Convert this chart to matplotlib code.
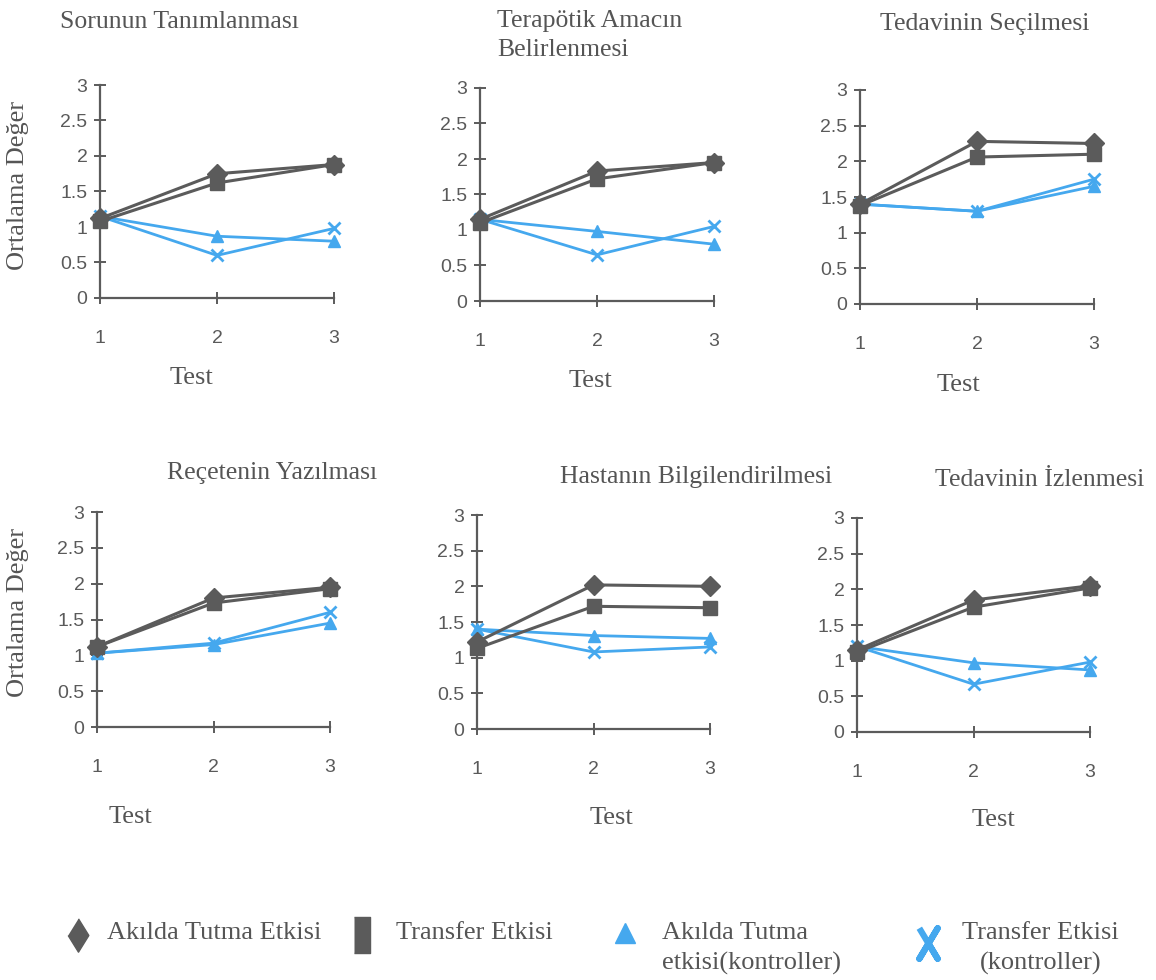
import matplotlib.pyplot as plt

# data
tests = [1, 2, 3]
titles = ["Sorunun Tanımlanması", "Terapötik Amacın\nBelirlenmesi", "Tedavinin Seçilmesi",
          "Reçetenin Yazılması", "Hastanın Bilgilendirilmesi", "Tedavinin İzlenmesi"]
akilda = [[1.12, 1.75, 1.88], [1.15, 1.83, 1.95], [1.40, 2.28, 2.25],
          [1.12, 1.80, 1.95], [1.22, 2.02, 2.00], [1.15, 1.85, 2.05]]
transfer = [[1.08, 1.62, 1.88], [1.10, 1.72, 1.95], [1.38, 2.06, 2.10],
            [1.12, 1.73, 1.93], [1.13, 1.72, 1.70], [1.12, 1.75, 2.02]]
akilda_k = [[1.15, 0.87, 0.80], [1.15, 0.98, 0.80], [1.40, 1.30, 1.65],
            [1.03, 1.15, 1.45], [1.40, 1.31, 1.27], [1.20, 0.97, 0.87]]
transfer_k = [[1.15, 0.60, 0.98], [1.15, 0.65, 1.05], [1.40, 1.30, 1.75],
              [1.03, 1.17, 1.60], [1.40, 1.08, 1.15], [1.20, 0.67, 0.98]]
legend_labels = ["Akılda Tutma Etkisi", "Transfer Etkisi",
                 "Akılda Tutma\netkisi(kontroller)", "Transfer Etkisi\n(kontroller)"]

W, H = 1156, 980
GRAY = "#5b5b5b"
BLUE = "#45a8ee"
TXT = "#555555"
TICK = "#5a5a5a"
SERIF = "Liberation Serif"
SANS = "Liberation Sans"

fig = plt.figure(figsize=(W / 100, H / 100), dpi=100)

# axes boxes in pixels: left, right, top, bottom
boxes = [(100, 334, 85, 298), (480, 714, 88, 301), (860, 1094, 90, 304),
         (97, 330, 512, 727), (477, 710, 515, 729), (857, 1090, 518, 732)]
title_pos = [(60, 22), (497, 10), (880, 24), (167, 473), (560, 477), (935, 480)]
test_pos = [(191, 378), (590, 381), (958, 385), (130, 817), (611, 818), (993, 820)]

for i, (l, r, t, b) in enumerate(boxes):
    ax = fig.add_axes([l / W, 1 - b / H, (r - l) / W, (b - t) / H])
    ax.plot(tests, akilda[i], color=GRAY, lw=2.2, marker="D", ms=10, clip_on=False, zorder=4)
    ax.plot(tests, transfer[i], color=GRAY, lw=2.2, marker="s", ms=10, clip_on=False, zorder=4)
    ax.plot(tests, akilda_k[i], color=BLUE, lw=2, marker="^", ms=8, clip_on=False, zorder=3)
    ax.plot(tests, transfer_k[i], color=BLUE, lw=2, marker="x", ms=9, mew=2, clip_on=False, zorder=3)
    ax.set_xlim(1, 3)
    ax.set_ylim(0, 3)
    ax.set_xticks(tests)
    ax.set_yticks([0, 0.5, 1, 1.5, 2, 2.5, 3])
    ax.set_yticklabels(["0", "0.5", "1", "1.5", "2", "2.5", "3"])
    for s in ["top", "right"]:
        ax.spines[s].set_visible(False)
    for s in ["left", "bottom"]:
        ax.spines[s].set_color(GRAY)
        ax.spines[s].set_linewidth(1.6)
    ax.tick_params(axis="both", direction="inout", length=8, width=1.4, color=GRAY,
                   labelcolor=TICK, labelsize=14)
    ax.tick_params(axis="x", pad=19)
    ax.tick_params(axis="y", pad=5)
    for lab in ax.get_xticklabels() + ax.get_yticklabels():
        lab.set_fontfamily(SANS)
    ax.patch.set_alpha(0)

    tx, ty = title_pos[i]
    if i == 1:
        fig.text(tx / W, 1 - ty / H, titles[i], family=SERIF, fontsize=18.5, color=TXT,
                 ha="left", va="top", linespacing=1.4)
    else:
        fig.text(tx / W, 1 - ty / H, titles[i], family=SERIF, fontsize=18.5, color=TXT,
                 ha="left", va="center")
    sx, sy = test_pos[i]
    fig.text(sx / W, 1 - sy / H, "Test", family=SERIF, fontsize=19, color=TXT,
             ha="center", va="center")

for yc in [185, 612]:
    fig.text(18 / W, 1 - yc / H, "Ortalama Değer", family=SERIF, fontsize=19, color=TXT,
             rotation=90, ha="center", va="center")

# legend drawn in a figure-pixel axes
lax = fig.add_axes([0, 0, 1, 1])
lax.set_xlim(0, W)
lax.set_ylim(H, 0)
lax.axis("off")
keys = [([(0, 1), (0.62, 0), (0, -1), (-0.62, 0)], GRAY, 24, 0),
        ([(-0.45, -1), (0.45, -1), (0.45, 1), (-0.45, 1)], GRAY, 26, 0),
        ("^", BLUE, 15, 0),
        ([(-0.6, 1), (0, 0), (0.6, 1), (0, 0), (-0.6, -1), (0, 0), (0.6, -1), (0, 0)], BLUE, 22, 4.5)]
key_x = [78, 362, 625, 928]
key_y = [935, 935, 933, 943]
text_x = [107, 396, 662, 962]
for k, (m, c, ms, mew) in enumerate(keys):
    if mew:
        lax.plot([key_x[k]], [key_y[k]], ls="none", marker=m, ms=ms, mew=mew, color=c)
    else:
        lax.plot([key_x[k]], [key_y[k]], ls="none", marker=m, ms=ms, color=c)
    lax.text(text_x[k], 922, legend_labels[k], family=SERIF, fontsize=19, color=TXT,
             ha="left", va="top", linespacing=1.45,
             multialignment="center" if k == 3 else "left")

fig.savefig("out.png", dpi=100)
